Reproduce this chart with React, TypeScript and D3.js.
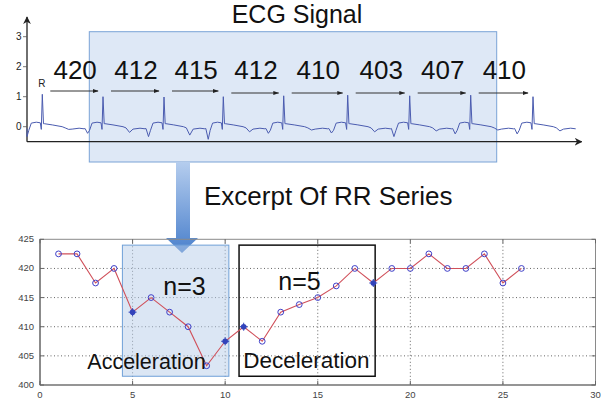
import React from "react";
import * as d3 from "d3";

// ---------- Top panel: ECG signal ----------
const ecgTitle = "ECG Signal";
const ecgYTicks = [0, 1, 2, 3];
// R-peak times (arbitrary time units)
const rPeakTimes = [15.3, 76, 137, 196.3, 256.7, 320.7, 382.7, 443.7, 506];
const rPeakHeights = [1.08, 1.0, 0.99, 1.0, 1.03, 1.05, 1.03, 1.05, 1.0];
// depth of the sharp dip preceding each R peak, and of the broad dip after it
const preDips = [-0.33, -0.22, -0.33, -0.42, -0.22, -0.21, -0.33, -0.24, -0.24];
const postDips = [-0.09, -0.19, -0.28, -0.17, -0.11, -0.17, -0.14, -0.11, -0.14];
// beat template: [offset from R, level]; "Q" / "T" / "R" are replaced by per-beat values
const beatTemplate: [number, number | string][] = [
  [-18, -0.06], [-15.5, "Q"], [-13.5, -0.12], [-11, 0.12], [-6, 0.15], [-2, 0.13],
  [-1, -0.09], [0, "R"], [1.2, 0.1], [2, 0.1], [10, 0.06], [20, 0.0], [23, -0.04],
  [26.5, "T"], [30, -0.08], [37, -0.05], [42, -0.07],
];
const ecgEnd = 549.7;
const rrLabels = ["420", "412", "415", "412", "410", "403", "407", "410"];

// ---------- Bottom panel: RR series ----------
const rrIndex = [1, 2, 3, 4, 5, 6, 7, 8, 9, 10, 11, 12, 13, 14, 15, 16, 17, 18, 19, 20, 21, 22, 23, 24, 25, 26];
const rrValues = [422.5, 422.5, 417.5, 420, 412.5, 415, 412.5, 410, 403.3, 407.5, 410, 407.5, 412.5,
  413.8, 415, 417, 420, 417.5, 420, 420, 422.5, 420, 420, 422.5, 417.5, 420];
const filledIndex = [5, 10, 11, 18];
const xTicks = [0, 5, 10, 15, 20, 25, 30];
const yTicks = [400, 405, 410, 415, 420, 425];
const accelRange = [4.45, 10.2];
const decelRange = [10.75, 18.1];
const boxValueRange = [401.5, 424];

const FONT = "'Liberation Sans', Arial, sans-serif";

export default function App() {
  // ECG scales
  const xE = d3.scaleLinear().domain([0, 554.7]).range([27, 581.7]);
  const yE = d3.scaleLinear().domain([-0.5, 3.5]).range([141.7, 21.7]);

  const pts: [number, number][] = [];
  rPeakTimes.forEach((r, i) => {
    const prevInt = i > 0 ? r - rPeakTimes[i - 1] : 61;
    const nextInt = i < rPeakTimes.length - 1 ? rPeakTimes[i + 1] - r : 62;
    beatTemplate.forEach(([off, lv]) => {
      const t = r + off * ((off < 0 ? prevInt : nextInt) / 61);
      if (t > ecgEnd) return;
      let v: number;
      if (lv === "Q") v = preDips[i];
      else if (lv === "T") v = postDips[i];
      else if (lv === "R") v = rPeakHeights[i];
      else v = lv as number;
      if (t < 0) { if (off > -15) return; pts.push([0, v]); return; }
      pts.push([t, v]);
    });
  });
  const ecgLine = d3.line<[number, number]>().x((d) => xE(d[0])).y((d) => yE(d[1]));

  // RR scales
  const xB = d3.scaleLinear().domain([0, 30]).range([40, 595.5]);
  const yB = d3.scaleLinear().domain([400, 425]).range([385, 239.3]);
  const rrLine = d3.line<number>().x((_, i) => xB(rrIndex[i])).y((d) => yB(d));

  const axisY0 = yE(-0.5);

  return (
    <svg width={605} height={402} style={{ position: "absolute", left: 0, top: 0, background: "#fff" }}
      fontFamily={FONT}>
      <defs>
        <marker id="ah" viewBox="0 0 10 10" refX="9" refY="5" markerWidth="6" markerHeight="6" orient="auto">
          <path d="M0,1.5 L10,5 L0,8.5 z" fill="#222" />
        </marker>
        <marker id="axh" viewBox="0 0 10 10" refX="9" refY="5" markerWidth="6" markerHeight="6" orient="auto">
          <path d="M0,0 L10,5 L0,10 L3,5 z" fill="#222" />
        </marker>
        <linearGradient id="downArrow" x1="0" y1="0" x2="0" y2="1">
          <stop offset="0" stopColor="#b5cdee" />
          <stop offset="1" stopColor="#4a80cc" />
        </linearGradient>
      </defs>

      {/* ---------- ECG panel ---------- */}
      <rect x={89.3} y={31.7} width={407.4} height={130.3} fill="#c3d5ee" fillOpacity={0.55}
        stroke="#7aa3d6" strokeWidth={1} />
      <text x={297} y={22.7} fontSize={25} textAnchor="middle" fill="#111">{ecgTitle}</text>

      {/* axes */}
      <line x1={xE(0)} y1={axisY0} x2={xE(0)} y2={17} stroke="#222" strokeWidth={1.3} markerEnd="url(#axh)" />
      <line x1={xE(0)} y1={axisY0} x2={xE(554.7)} y2={axisY0} stroke="#222" strokeWidth={1.3} markerEnd="url(#axh)" />
      {ecgYTicks.map((t) => (
        <g key={t}>
          <line x1={xE(0) - 4} x2={xE(0)} y1={yE(t)} y2={yE(t)} stroke="#555" strokeWidth={0.8} />
          <text x={21.5} y={yE(t) + 3.5} fontSize={10} textAnchor="end" fill="#222">{t}</text>
        </g>
      ))}

      <path d={ecgLine(pts) || ""} fill="none" stroke="#4b5cb0" strokeWidth={1} />
      <text x={xE(rPeakTimes[0]) - 0.5} y={87} fontSize={10} textAnchor="middle" fill="#222">R</text>

      {rrLabels.map((lab, i) => {
        const x1 = xE(rPeakTimes[i]) + 8;
        const x2 = xE(rPeakTimes[i + 1]) - 5;
        const y = i < 3 ? 91 : 93;
        return (
          <g key={i}>
            <line x1={x1} x2={x2} y1={y} y2={y} stroke="#333" strokeWidth={1} markerEnd="url(#ah)" />
            <text x={(x1 + x2) / 2 + 1} y={79.3} fontSize={26} textAnchor="middle" fill="#111">{lab}</text>
          </g>
        );
      })}

      {/* ---------- connecting arrow + caption ---------- */}
      <path d="M176,162 L190,162 L190,238 L198,238 L182,253 L166,238 L176,238 Z" fill="url(#downArrow)" />
      <text x={204} y={205} fontSize={26} fill="#111">Excerpt Of RR Series</text>

      {/* ---------- RR panel ---------- */}
      {xTicks.slice(1, -1).map((t) => (
        <line key={"gx" + t} x1={xB(t)} x2={xB(t)} y1={yB(425)} y2={yB(400)} stroke="#666"
          strokeWidth={1} strokeDasharray="1,2.5" />
      ))}
      {yTicks.slice(1, -1).map((t) => (
        <line key={"gy" + t} x1={xB(0)} x2={xB(30)} y1={yB(t)} y2={yB(t)} stroke="#666"
          strokeWidth={1} strokeDasharray="1,2.5" />
      ))}
      <rect x={xB(accelRange[0])} y={yB(boxValueRange[1])} width={xB(accelRange[1]) - xB(accelRange[0])}
        height={yB(boxValueRange[0]) - yB(boxValueRange[1])} fill="#b8cdea" fillOpacity={0.5}
        stroke="#6fa0d8" strokeWidth={1} />
      <rect x={xB(decelRange[0])} y={yB(boxValueRange[1])} width={xB(decelRange[1]) - xB(decelRange[0])}
        height={yB(boxValueRange[0]) - yB(boxValueRange[1])} fill="none" stroke="#111" strokeWidth={1.5} />

      <rect x={xB(0)} y={yB(425)} width={xB(30) - xB(0)} height={yB(400) - yB(425)} fill="none"
        stroke="#8a8a8a" strokeWidth={1} />
      <line x1={xB(0)} x2={xB(0)} y1={yB(425)} y2={yB(400)} stroke="#666" strokeWidth={1.2} />
      <line x1={xB(0)} x2={xB(30)} y1={yB(400)} y2={yB(400)} stroke="#666" strokeWidth={1.2} />
      {xTicks.map((t) => (
        <g key={"tx" + t}>
          <line x1={xB(t)} x2={xB(t)} y1={yB(400)} y2={yB(400) - 4} stroke="#666" />
          <line x1={xB(t)} x2={xB(t)} y1={yB(425)} y2={yB(425) + 4} stroke="#666" />
          <text x={xB(t)} y={398} fontSize={9.5} textAnchor="middle" fill="#444">{t}</text>
        </g>
      ))}
      {yTicks.map((t) => (
        <g key={"ty" + t}>
          <line x1={xB(0)} x2={xB(0) + 4} y1={yB(t)} y2={yB(t)} stroke="#666" />
          <line x1={xB(30)} x2={xB(30) - 4} y1={yB(t)} y2={yB(t)} stroke="#666" />
          <text x={34} y={yB(t) + 3} fontSize={9.5} textAnchor="end" fill="#444">{t}</text>
        </g>
      ))}

      <path d={rrLine(rrValues) || ""} fill="none" stroke="#d0505a" strokeWidth={1.1} />
      {rrValues.map((v, i) =>
        filledIndex.includes(rrIndex[i]) ? (
          <g key={"m" + i}>
            <circle cx={xB(rrIndex[i])} cy={yB(v)} r={2.8} fill="#3344bb" />
            <path d={`M${xB(rrIndex[i]) - 4},${yB(v)}h8M${xB(rrIndex[i])},${yB(v) - 4}v8`} stroke="#3344bb" strokeWidth={1} />
          </g>
        ) : (
          <circle key={"m" + i} cx={xB(rrIndex[i])} cy={yB(v)} r={2.9} fill="none" stroke="#3f3fc8" strokeWidth={1} />
        )
      )}

      <text x={163.3} y={295} fontSize={25} fill="#111">n=3</text>
      <text x={278.3} y={290} fontSize={25} fill="#111">n=5</text>
      <text x={87.3} y={369.3} fontSize={21.5} fill="#111">Acceleration</text>
      <text x={243.3} y={368} fontSize={22.5} fill="#111">Deceleration</text>
    </svg>
  );
}
